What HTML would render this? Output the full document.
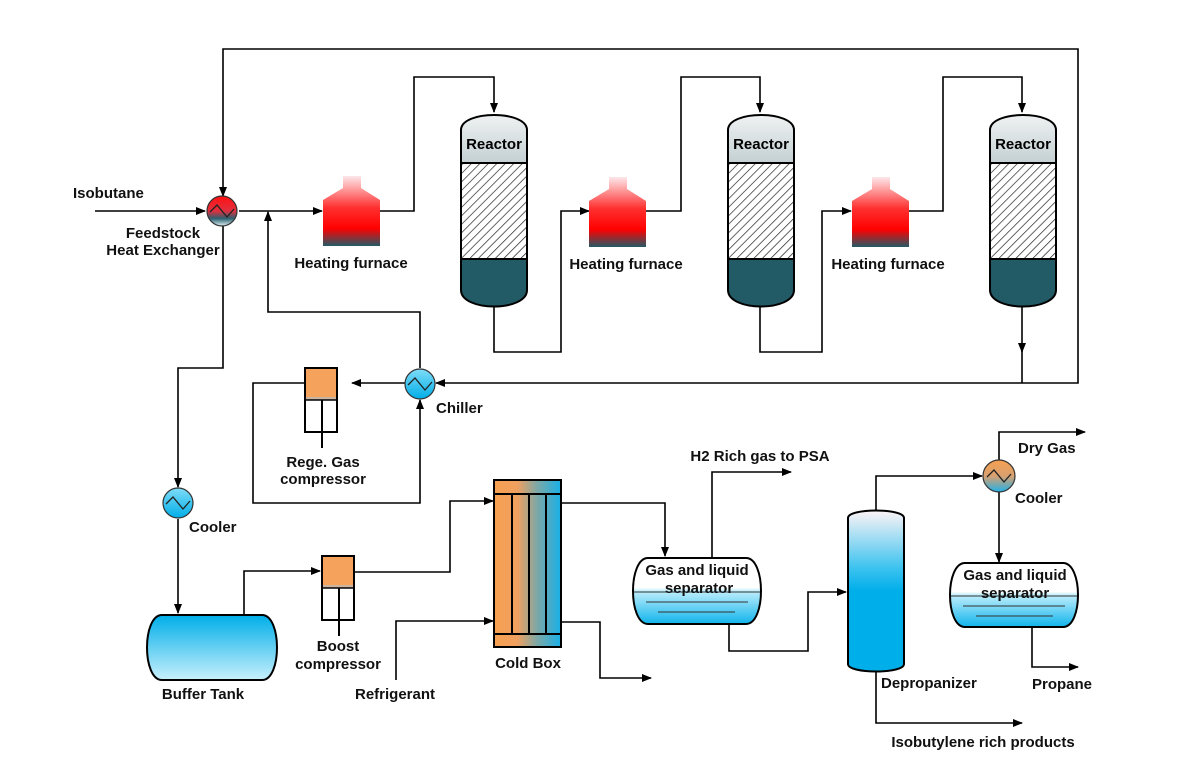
<!DOCTYPE html>
<html><head><meta charset="utf-8"><style>
html,body{margin:0;padding:0;background:#fff;}
svg{display:block;font-family:"Liberation Sans",Arial,sans-serif;font-weight:bold;font-size:15px;}
</style></head><body>
<svg width="1180" height="778" viewBox="0 0 1180 778" xmlns="http://www.w3.org/2000/svg">
<defs>
<marker id="a" markerWidth="10" markerHeight="10" refX="9" refY="5" orient="auto" markerUnits="userSpaceOnUse"><path d="M0,1 L10,5 L0,9 Z" fill="#000"/></marker>
<linearGradient id="furn" x1="0" y1="0" x2="0" y2="1">
<stop offset="0" stop-color="#fde8ea"/><stop offset="0.45" stop-color="#ff3030"/><stop offset="0.75" stop-color="#ff0000"/><stop offset="1" stop-color="#235a66"/></linearGradient>
<linearGradient id="hx" x1="0" y1="0" x2="0" y2="1">
<stop offset="0" stop-color="#ff1010"/><stop offset="0.5" stop-color="#e03040"/><stop offset="0.75" stop-color="#2a6070"/><stop offset="1" stop-color="#e0f0f4"/></linearGradient>
<linearGradient id="blue" x1="0" y1="0" x2="0" y2="1">
<stop offset="0" stop-color="#7fdcf8"/><stop offset="1" stop-color="#00aee8"/></linearGradient>
<linearGradient id="tank" x1="0" y1="0" x2="0" y2="1">
<stop offset="0" stop-color="#00aee8"/><stop offset="1" stop-color="#c8f0fc"/></linearGradient>
<linearGradient id="oc" x1="0" y1="0" x2="0" y2="1">
<stop offset="0" stop-color="#f7a050"/><stop offset="0.5" stop-color="#d8a070"/><stop offset="1" stop-color="#20b0e8"/></linearGradient>
<linearGradient id="cb" x1="0" y1="0" x2="1" y2="0">
<stop offset="0" stop-color="#f7a050"/><stop offset="0.35" stop-color="#f0a060"/><stop offset="0.65" stop-color="#7aa8a8"/><stop offset="1" stop-color="#18b0e8"/></linearGradient>
<linearGradient id="gray" x1="0" y1="0" x2="0" y2="1">
<stop offset="0" stop-color="#f4f6f6"/><stop offset="1" stop-color="#c4d0d2"/></linearGradient>
<linearGradient id="sep" x1="0" y1="0" x2="0" y2="1">
<stop offset="0" stop-color="#fff"/><stop offset="0.45" stop-color="#fff"/><stop offset="0.5" stop-color="#bfeefc"/><stop offset="1" stop-color="#10b4ec"/></linearGradient>
<linearGradient id="col" x1="0" y1="0" x2="0" y2="1">
<stop offset="0" stop-color="#fdf4f6"/><stop offset="0.35" stop-color="#40c4f0"/><stop offset="0.5" stop-color="#00aeea"/><stop offset="1" stop-color="#00aeea"/></linearGradient>
<pattern id="hatch" width="6" height="6" patternUnits="userSpaceOnUse" patternTransform="rotate(45)">
<rect width="6" height="6" fill="#fff"/><line x1="0" y1="0" x2="0" y2="6" stroke="#222" stroke-width="1.4"/></pattern>
<clipPath id="rc"><path d="M0,16 C0,-4 66,-4 66,16 V176 C66,198 0,198 0,176 Z"/></clipPath>
<g id="reactor">
<g clip-path="url(#rc)">
<rect x="0" y="-5" width="66" height="54" fill="url(#gray)"/>
<rect x="0" y="49" width="66" height="96" fill="url(#hatch)"/>
<rect x="0" y="145" width="66" height="55" fill="#225a66"/>
</g>
<line x1="0" y1="49" x2="66" y2="49" stroke="#000" stroke-width="2"/>
<line x1="0" y1="145" x2="66" y2="145" stroke="#000" stroke-width="2"/>
<path d="M0,16 C0,-4 66,-4 66,16 V176 C66,198 0,198 0,176 Z" fill="none" stroke="#000" stroke-width="2"/>
<text x="33" y="35" text-anchor="middle">Reactor</text>
</g>
<g id="furnace">
<path d="M20,0 H38 V12 L57,24 V70 H0 V24 L20,12 Z" fill="url(#furn)"/>
</g>
<g id="wave"><path d="M-12,1 L-5,-6 L5,6 L12,-2" fill="none" stroke="#222" stroke-width="1.3"/></g>
<g id="comp">
<rect x="0" y="0" width="32" height="29" fill="#f5a25d"/>
<rect x="0" y="29" width="32" height="3" fill="#c8b4a0"/>
<rect x="0" y="0" width="32" height="64" fill="none" stroke="#000" stroke-width="2"/>
<line x1="0" y1="32" x2="32" y2="32" stroke="#000" stroke-width="1.5"/>
<line x1="17" y1="32" x2="17" y2="80" stroke="#000" stroke-width="2"/>
</g>
</defs>

<g fill="none" stroke="#000" stroke-width="1.6">
<polyline points="1022,383 1078,383 1078,49 223,49 223,196" marker-end="url(#a)"/>
<line x1="95" y1="211" x2="205" y2="211" marker-end="url(#a)"/>
<line x1="239" y1="211" x2="322" y2="211" marker-end="url(#a)"/>
<polyline points="420,368 420,312 268,312 268,212" marker-end="url(#a)"/>
<polyline points="380,211 414,211 414,77 494,77 494,112" marker-end="url(#a)"/>
<polyline points="494,307 494,352 561,352 561,211 589,211" marker-end="url(#a)"/>
<polyline points="646,211 681,211 681,77 760,77 760,112" marker-end="url(#a)"/>
<polyline points="760,307 760,352 822,352 822,211 851,211" marker-end="url(#a)"/>
<polyline points="909,211 943,211 943,77 1022,77 1022,112" marker-end="url(#a)"/>
<polyline points="1022,307 1022,352" marker-end="url(#a)"/>
<line x1="1022" y1="350" x2="1022" y2="383"/>
<line x1="1022" y1="383" x2="436" y2="383" marker-end="url(#a)"/>
<line x1="405" y1="383" x2="352" y2="383" marker-end="url(#a)"/>
<polyline points="305,383 253,383 253,503 420,503 420,400" marker-end="url(#a)"/>
<polyline points="223,226 223,368 178,368 178,487" marker-end="url(#a)"/>
<line x1="178" y1="519" x2="178" y2="613" marker-end="url(#a)"/>
<polyline points="244,614 244,571 320,571" marker-end="url(#a)"/>
<polyline points="355,572 450,572 450,501 493,501" marker-end="url(#a)"/>
<polyline points="396,680 396,621 493,621" marker-end="url(#a)"/>
<polyline points="561,503 665,503 665,556" marker-end="url(#a)"/>
<polyline points="561,622 600,622 600,678 651,678" marker-end="url(#a)"/>
<polyline points="712,558 712,472 791,472" marker-end="url(#a)"/>
<polyline points="729,624 729,651 808,651 808,592 846,592" marker-end="url(#a)"/>
<polyline points="876,512 876,476 982,476" marker-end="url(#a)"/>
<polyline points="999,460 999,432 1085,432" marker-end="url(#a)"/>
<line x1="999" y1="492" x2="999" y2="562" marker-end="url(#a)"/>
<polyline points="1032,627 1032,667 1078,667" marker-end="url(#a)"/>
<polyline points="876,670 876,723 1022,723" marker-end="url(#a)"/>
</g>

<circle cx="222" cy="211" r="15" fill="url(#hx)" stroke="#333" stroke-width="1.2"/>
<use href="#wave" x="222" y="211"/>
<circle cx="420" cy="384" r="15" fill="url(#blue)" stroke="#333" stroke-width="1.2"/>
<use href="#wave" x="420" y="384"/>
<circle cx="178" cy="503" r="15" fill="url(#blue)" stroke="#333" stroke-width="1.2"/>
<use href="#wave" x="178" y="503"/>
<circle cx="999" cy="476" r="16" fill="url(#oc)" stroke="#333" stroke-width="1.2"/>
<use href="#wave" x="999" y="476"/>

<use href="#furnace" x="323" y="176"/>
<use href="#furnace" x="589" y="177"/>
<use href="#furnace" x="852" y="177"/>

<use href="#reactor" x="461" y="114"/>
<use href="#reactor" x="728" y="114"/>
<use href="#reactor" x="990" y="114"/>

<use href="#comp" x="305" y="368"/>
<use href="#comp" x="322" y="556"/>

<path d="M162,615 H262 C282,615 282,680 262,680 H162 C142,680 142,615 162,615 Z" fill="url(#tank)" stroke="#000" stroke-width="2"/>

<rect x="494" y="480" width="67" height="167" fill="url(#cb)" stroke="#000" stroke-width="2"/>
<g stroke="#000" stroke-width="2">
<line x1="494" y1="494" x2="561" y2="494"/><line x1="494" y1="634" x2="561" y2="634"/>
<line x1="512" y1="494" x2="512" y2="634"/><line x1="529" y1="494" x2="529" y2="634"/><line x1="546" y1="494" x2="546" y2="634"/>
</g>

<g>
<path d="M648,558 H746 C766,558 766,624 746,624 H648 C628,624 628,558 648,558 Z" fill="url(#sep)" stroke="#000" stroke-width="2"/>
<line x1="634" y1="592" x2="760" y2="592" stroke="#333" stroke-width="1"/>
<line x1="646" y1="602" x2="748" y2="602" stroke="#333" stroke-width="1"/>
<line x1="658" y1="612" x2="735" y2="612" stroke="#333" stroke-width="1"/>
</g>
<g>
<path d="M965,563 H1063 C1083,563 1083,627 1063,627 H965 C945,627 945,563 965,563 Z" fill="url(#sep)" stroke="#000" stroke-width="2"/>
<line x1="951" y1="596" x2="1077" y2="596" stroke="#333" stroke-width="1"/>
<line x1="963" y1="606" x2="1065" y2="606" stroke="#333" stroke-width="1"/>
<line x1="976" y1="616" x2="1053" y2="616" stroke="#333" stroke-width="1"/>
</g>

<path d="M848,518 C848,508 904,508 904,518 V664 C904,674 848,674 848,664 Z" fill="url(#col)" stroke="#000" stroke-width="2"/>

<g fill="#111">
<text x="73" y="198">Isobutane</text>
<text x="163" y="238" text-anchor="middle">Feedstock</text>
<text x="163" y="255" text-anchor="middle">Heat Exchanger</text>
<text x="351" y="268" text-anchor="middle">Heating furnace</text>
<text x="626" y="269" text-anchor="middle">Heating furnace</text>
<text x="888" y="269" text-anchor="middle">Heating furnace</text>
<text x="436" y="413">Chiller</text>
<text x="323" y="467" text-anchor="middle">Rege. Gas</text>
<text x="323" y="484" text-anchor="middle">compressor</text>
<text x="189" y="532">Cooler</text>
<text x="203" y="699" text-anchor="middle">Buffer Tank</text>
<text x="338" y="651" text-anchor="middle">Boost</text>
<text x="338" y="669" text-anchor="middle">compressor</text>
<text x="395" y="699" text-anchor="middle">Refrigerant</text>
<text x="528" y="668" text-anchor="middle">Cold Box</text>
<text x="760" y="461" text-anchor="middle">H2 Rich gas to PSA</text>
<text x="697" y="575" text-anchor="middle">Gas and liquid</text>
<text x="699" y="593" text-anchor="middle">separator</text>
<text x="1015" y="580" text-anchor="middle">Gas and liquid</text>
<text x="1015" y="598" text-anchor="middle">separator</text>
<text x="1018" y="453">Dry Gas</text>
<text x="1015" y="503">Cooler</text>
<text x="881" y="688">Depropanizer</text>
<text x="1062" y="689" text-anchor="middle">Propane</text>
<text x="983" y="747" text-anchor="middle">Isobutylene rich products</text>
</g>
</svg>
</body></html>
